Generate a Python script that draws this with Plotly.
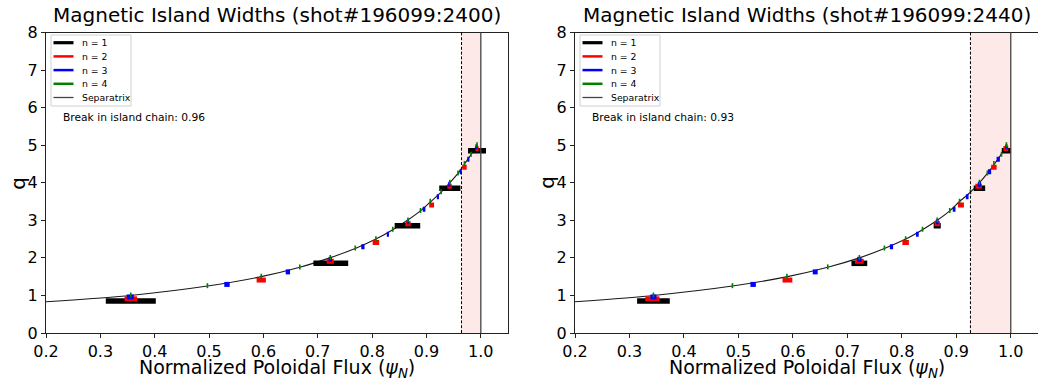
import plotly.graph_objects as go

W, H = 1038, 380

# ---------------- data ----------------
# q profile, shot 196099 @ 2400 ms
psi_2400 = [0.2, 0.355, 0.497, 0.596, 0.667, 0.722, 0.769, 0.807, 0.838, 0.865,
            0.889, 0.908, 0.927, 0.943, 0.958, 0.970, 0.982, 0.993]
q_2400 = [0.83, 1.0, 1.25, 1.5, 1.75, 2.0, 2.25, 2.5, 2.75, 3.0,
          3.25, 3.5, 3.75, 4.0, 4.25, 4.5, 4.75, 5.0]
# q profile, shot 196099 @ 2440 ms
psi_2440 = [0.2, 0.344, 0.489, 0.590, 0.664, 0.722, 0.768, 0.807, 0.838, 0.865,
            0.888, 0.906, 0.926, 0.9425, 0.957, 0.970, 0.982, 0.992]
q_2440 = [0.83, 1.0, 1.25, 1.5, 1.75, 2.0, 2.25, 2.5, 2.75, 3.0,
          3.25, 3.5, 3.75, 4.0, 4.25, 4.5, 4.75, 5.0]

# rational surfaces q = m/n
q_n1 = [1, 2, 3, 4, 5]
q_n2 = [1, 1.5, 2, 2.5, 3, 3.5, 4, 4.5, 5]
q_n3 = [1, 4/3, 5/3, 2, 7/3, 8/3, 3, 10/3, 11/3, 4, 13/3, 14/3, 5]
q_n4 = [1, 1.25, 1.5, 1.75, 2, 2.25, 2.5, 2.75, 3, 3.25, 3.5, 3.75, 4, 4.25, 4.5, 4.75, 5]

# island centres (psi_N) and full widths, t = 2400
c_n1_2400 = [0.356, 0.724, 0.865, 0.943, 0.993]
w_n1_2400 = [0.092, 0.064, 0.047, 0.039, 0.033]
c_n2_2400 = [0.356, 0.596, 0.723, 0.807, 0.866, 0.9095, 0.9425, 0.970, 0.993]
w_n2_2400 = [0.023, 0.017, 0.013, 0.012, 0.010, 0.009, 0.008, 0.008, 0.006]
c_n3_2400 = [0.355, 0.533, 0.645, 0.723, 0.783, 0.829, 0.866, 0.8955, 0.921, 0.942, 0.963, 0.977, 0.992]
w_n3_2400 = [0.013, 0.010, 0.008, 0.006, 0.006, 0.004, 0.004, 0.005, 0.004, 0.004, 0.004, 0.004, 0.004]
c_n4_2400 = [0.356, 0.497, 0.596, 0.667, 0.723, 0.769, 0.807, 0.838, 0.866, 0.889, 0.907, 0.927,
             0.943, 0.958, 0.970, 0.982, 0.993]
w_n4_2400 = [0.003, 0.003, 0.003, 0.003, 0.003, 0.003, 0.003, 0.003, 0.003, 0.003, 0.003, 0.003,
             0.003, 0.003, 0.003, 0.003, 0.003]

# island centres (psi_N) and full widths, t = 2440
c_n1_2440 = [0.344, 0.722, 0.865, 0.9425, 0.992]
w_n1_2440 = [0.060, 0.029, 0.013, 0.021, 0.017]
c_n2_2440 = [0.342, 0.590, 0.722, 0.807, 0.865, 0.9085, 0.941, 0.969, 0.991]
w_n2_2440 = [0.026, 0.018, 0.016, 0.012, 0.010, 0.011, 0.012, 0.010, 0.009]
c_n3_2440 = [0.344, 0.527, 0.641, 0.722, 0.781, 0.8285, 0.865, 0.896, 0.920, 0.9425, 0.961, 0.977, 0.992]
w_n3_2440 = [0.011, 0.010, 0.009, 0.008, 0.006, 0.005, 0.005, 0.005, 0.005, 0.006, 0.006, 0.006, 0.004]
c_n4_2440 = [0.344, 0.489, 0.589, 0.664, 0.722, 0.768, 0.807, 0.838, 0.865, 0.888, 0.906, 0.926,
             0.9425, 0.957, 0.969, 0.983, 0.992]
w_n4_2440 = [0.003, 0.003, 0.003, 0.003, 0.003, 0.003, 0.003, 0.003, 0.003, 0.003, 0.003, 0.003,
             0.003, 0.003, 0.003, 0.003, 0.003]

break_2400 = 0.9645
break_2440 = 0.926
separatrix = 1.0
titles = ["Magnetic Island Widths (shot#196099:2400)", "Magnetic Island Widths (shot#196099:2440)"]
x_ticks = [0.2, 0.3, 0.4, 0.5, 0.6, 0.7, 0.8, 0.9, 1.0]
y_ticks = [0, 1, 2, 3, 4, 5, 6, 7, 8]
legend_labels = ["n = 1", "n = 2", "n = 3", "n = 4", "Separatrix"]

# ---------------- styles ----------------
FONT = "DejaVu Sans"
n_colors = {1: "#000000", 2: "#ff0000", 3: "#0000ff", 4: "#008000"}
n_offset = {1: -0.145, 2: -0.09, 3: -0.04, 4: 0.01}   # vertical drawing offset of each family
n_lw = {1: 5.5, 2: 5, 3: 5, 4: 5}
leg_lw = [3.2, 2.5, 2.5, 2.5, 1.3]
leg_col = ["#000000", "#ff0000", "#0000ff", "#008000", "#444444"]

panels = [
    dict(xa="x", ya="y", psi=psi_2400, q=q_2400, brk=break_2400,
         isl={1: (q_n1, c_n1_2400, w_n1_2400), 2: (q_n2, c_n2_2400, w_n2_2400),
              3: (q_n3, c_n3_2400, w_n3_2400), 4: (q_n4, c_n4_2400, w_n4_2400)},
         px0=46, px1=508),
    dict(xa="x2", ya="y2", psi=psi_2440, q=q_2440, brk=break_2440,
         isl={1: (q_n1, c_n1_2440, w_n1_2440), 2: (q_n2, c_n2_2440, w_n2_2440),
              3: (q_n3, c_n3_2440, w_n3_2440), 4: (q_n4, c_n4_2440, w_n4_2440)},
         px0=575, px1=1038),
]
PY_TOP, PY_BOT = 32.5, 333.0


def fx(px):
    return px / W


def fy(py):
    return 1 - py / H


fig = go.Figure()
shapes = []
annotations = []

for k, p in enumerate(panels):
    xa, ya = p["xa"], p["ya"]
    # shaded region beyond break in island chain
    shapes.append(dict(type="rect", xref=xa, yref=ya + " domain", x0=p["brk"], x1=separatrix,
                       y0=0, y1=1, fillcolor="rgba(250,200,195,0.4)", line_width=0, layer="below"))
    # q profile
    fig.add_trace(go.Scatter(x=p["psi"], y=p["q"], mode="lines", line=dict(color="#1a1a1a", width=1.1,
                             shape="spline", smoothing=0.6), xaxis=xa, yaxis=ya,
                             showlegend=False, hoverinfo="skip"))
    # island widths
    for n in (1, 2, 3, 4):
        qs, cs, ws = p["isl"][n]
        xs, ys = [], []
        for qv, c, w in zip(qs, cs, ws):
            xs += [c - w / 2, c + w / 2, None]
            ys += [qv + n_offset[n], qv + n_offset[n], None]
        fig.add_trace(go.Scatter(x=xs, y=ys, mode="lines",
                                 line=dict(color=n_colors[n], width=n_lw[n]),
                                 xaxis=xa, yaxis=ya, showlegend=False, hoverinfo="skip"))
    # break line and separatrix
    shapes.append(dict(type="line", xref=xa, yref=ya + " domain", x0=p["brk"], x1=p["brk"], y0=0, y1=1,
                       line=dict(color="#000000", width=1, dash="3px,1.8px")))
    shapes.append(dict(type="line", xref=xa, yref=ya + " domain", x0=separatrix, x1=separatrix, y0=0, y1=1,
                       line=dict(color="#444444", width=1.3)))

    px0, px1 = p["px0"], p["px1"]
    cx = (px0 + px1) / 2
    # title
    annotations.append(dict(text=titles[k], x=fx(cx), y=fy(15), xref="paper", yref="paper",
                            xanchor="center", yanchor="middle", showarrow=False,
                            font=dict(family=FONT, size=20, color="#000")))
    # x axis title
    annotations.append(dict(text="Normalized Poloidal Flux (<i>ψ<sub>N</sub></i>)", x=fx(cx), y=fy(368),
                            xref="paper", yref="paper", xanchor="center", yanchor="middle",
                            showarrow=False, font=dict(family=FONT, size=19, color="#000")))
    # y axis title
    annotations.append(dict(text="q", x=fx(px0 - 28), y=fy((PY_TOP + PY_BOT) / 2), xref="paper", yref="paper",
                            xanchor="center", yanchor="middle", textangle=-90, showarrow=False,
                            font=dict(family=FONT, size=20, color="#000")))
    # break text
    annotations.append(dict(text="Break in island chain: %.2f" % p["brk"], x=fx(px0 + 14.5), y=fy(117.3),
                            xref="paper", yref="paper", xanchor="left", yanchor="middle",
                            showarrow=False, font=dict(family=FONT, size=10.7, color="#000")))
    # legend box
    lx0 = px0 + 5
    shapes.append(dict(type="rect", xref="paper", yref="paper", x0=fx(lx0), x1=fx(lx0 + 80),
                       y0=fy(106), y1=fy(35), fillcolor="rgba(255,255,255,0.8)",
                       line=dict(color="#d0d0d0", width=1)))
    for i, lab in enumerate(legend_labels):
        yy = 42.7 + 13.7 * i
        shapes.append(dict(type="line", xref="paper", yref="paper", x0=fx(lx0 + 2.5), x1=fx(lx0 + 22.5),
                           y0=fy(yy), y1=fy(yy), line=dict(color=leg_col[i], width=leg_lw[i])))
        annotations.append(dict(text=lab, x=fx(lx0 + 29), y=fy(yy), xref="paper", yref="paper",
                                xanchor="left", yanchor="middle", showarrow=False,
                                font=dict(family=FONT, size=9.3, color="#000")))

axis_common = dict(showgrid=False, zeroline=False, showline=True, mirror=True, linecolor="#222222",
                   linewidth=1, ticks="outside", ticklen=4, tickwidth=1, tickcolor="#222222",
                   tickfont=dict(family=FONT, size=16, color="#000"), automargin=False)

ydom = [fy(PY_BOT), fy(PY_TOP)]
layout = dict(
    width=W, height=H, margin=dict(l=0, r=0, t=0, b=0),
    paper_bgcolor="white", plot_bgcolor="white", showlegend=False,
    shapes=shapes, annotations=annotations,
    xaxis=dict(domain=[fx(46), fx(508)], range=[0.2, 1.05], tickvals=x_ticks,
               ticktext=["%.1f" % v for v in x_ticks], anchor="y", ticklabelstandoff=0, **axis_common),
    yaxis=dict(domain=ydom, range=[0, 8], tickvals=y_ticks, anchor="x", **axis_common),
    xaxis2=dict(domain=[fx(575), 1.0], range=[0.2, 1.05], tickvals=x_ticks,
                ticktext=["%.1f" % v for v in x_ticks], anchor="y2", ticklabelstandoff=0, **axis_common),
    yaxis2=dict(domain=ydom, range=[0, 8], tickvals=y_ticks, anchor="x2", **axis_common),
)
fig.update_layout(**layout)
fig.write_html("out.html")
